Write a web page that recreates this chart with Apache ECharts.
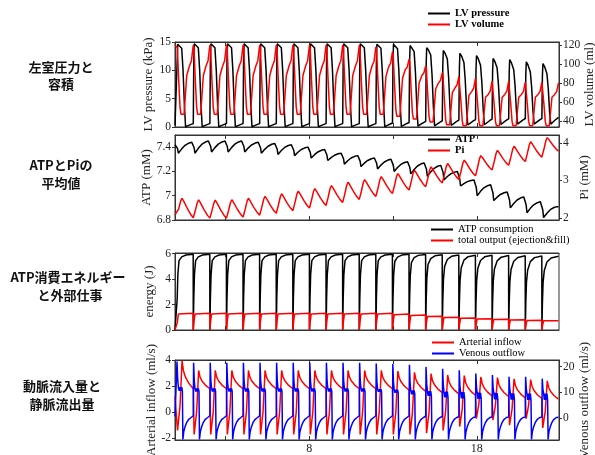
<!DOCTYPE html>
<html>
<head>
<meta charset="utf-8">
<script src="https://cdn.jsdelivr.net/npm/echarts@6/dist/echarts.min.js"></script>
<style>
  html, body { margin: 0; padding: 0; background: #fff; }
  #chart { width: 595px; height: 455px; }
</style>
</head>
<body>
<div id="chart"></div>
<script>
/* -------------------------------------------------------------------------- */
/*                       LV / ATP / energy / flow panels                      */
/* -------------------------------------------------------------------------- */

// beat onsets (s)
const beatOnsets = [0.10, 1.09, 2.08, 3.07, 4.06, 5.05, 6.04, 7.03, 8.02, 9.01, 10.00, 10.99,
  11.98, 12.97, 13.96, 14.95, 15.94, 16.93, 17.92, 18.91, 19.90, 20.89, 21.88];
const beatLen = 0.99;
const xTicks = [3, 8, 13, 18];
const xLabels = [8, 18];

// LV pressure (kPa), per beat
const lvpPeak = [14.6, 14.7, 14.7, 14.7, 14.7, 14.7, 14.7, 14.7, 14.7, 14.7, 14.7, 14.7,
  14.6, 14.6, 14.4, 14.0, 13.5, 13.0, 12.6, 12.1, 11.9, 11.5, 11.2];
const lvpLate = [13.9, 14.0, 14.0, 14.0, 14.0, 14.0, 14.0, 14.0, 14.0, 14.0, 14.0, 14.0,
  13.9, 13.8, 13.3, 12.7, 12.0, 11.4, 10.9, 10.4, 10.1, 9.7, 9.4];
const lvpMin = [0.05, 0.05, 0.05, 0.05, 0.05, 0.05, 0.05, 0.05, 0.05, 0.05, 0.05, 0.05, 0.05,
  0.1, 0.15, 0.2, 0.3, 0.35, 0.4, 0.45, 0.5, 0.5, 0.5];
// diastolic pressure just before each upstroke (last = right edge)
const lvpDia = [0.4, 0.6, 0.6, 0.6, 0.6, 0.6, 0.6, 0.6, 0.6, 0.6, 0.6, 0.6, 0.6,
  0.7, 0.8, 1.0, 1.1, 1.2, 1.3, 1.4, 1.45, 1.5, 1.5, 1.7];

// LV volume (ml)
const lvvEdv = [120, 120, 120, 120, 120, 120, 120, 120, 120, 120, 120, 120,
  118, 113, 105, 98, 91, 87, 85, 82, 82, 81, 81, 80];
const lvvEsv = [47, 47, 47, 47, 47, 47, 47, 47, 47, 47, 47, 47, 47,
  45, 42, 39, 36, 35, 35, 35, 35, 35, 35];
const lvvFill = [88, 88, 88, 88, 88, 88, 88, 88, 88, 88, 88, 88,
  87, 85, 80, 74, 70, 67, 65, 65, 65, 65, 65];
const lvvPre = [98, 98, 98, 98, 98, 98, 98, 98, 98, 98, 98, 98,
  97, 94, 88, 80, 75, 71, 68, 68, 68, 68, 68];

// ATP (mM): level at each beat onset and the dip right after it
const atpHi = [7.43, 7.44, 7.45, 7.45, 7.45, 7.44, 7.43, 7.42, 7.40, 7.38, 7.35, 7.33,
  7.31, 7.30, 7.28, 7.27, 7.25, 7.20, 7.13, 7.09, 7.03, 6.99, 6.95, 6.91];
const atpLo = [7.35, 7.35, 7.36, 7.36, 7.36, 7.35, 7.34, 7.33, 7.31, 7.29, 7.26, 7.24,
  7.22, 7.20, 7.18, 7.16, 7.13, 7.08, 7.00, 6.96, 6.90, 6.86, 6.82];

// Pi (mM): trough at beat onset, peak in systole
const piLo = [2.05, 2.00, 1.99, 1.99, 2.02, 2.07, 2.12, 2.19, 2.26, 2.33, 2.41, 2.49,
  2.57, 2.65, 2.74, 2.83, 2.93, 3.02, 3.12, 3.28, 3.40, 3.50, 3.62, 3.78];
const piHi = [2.52, 2.48, 2.47, 2.48, 2.52, 2.57, 2.64, 2.71, 2.78, 2.86, 2.95, 3.02,
  3.10, 3.18, 3.27, 3.36, 3.45, 3.54, 3.66, 3.80, 3.91, 4.03, 4.14];

// energy (J)
const atpcKnee = [5.45, 5.45, 5.45, 5.45, 5.45, 5.45, 5.45, 5.45, 5.45, 5.45, 5.45, 5.45, 5.45,
  5.4, 5.3, 5.15, 5.0, 4.9, 4.85, 4.8, 4.75, 4.7, 4.65];
const atpcEnd = [5.95, 5.95, 5.95, 5.95, 5.95, 5.95, 5.95, 5.95, 5.95, 5.95, 5.95, 5.95, 5.95, 5.95,
  5.94, 5.92, 5.9, 5.88, 5.87, 5.85, 5.83, 5.82, 5.8];
const outPeak = [1.36, 1.36, 1.36, 1.36, 1.36, 1.36, 1.36, 1.36, 1.36, 1.36, 1.36, 1.36, 1.36,
  1.3, 1.24, 1.15, 1.07, 1.0, 0.95, 0.9, 0.86, 0.82, 0.79];
const outEnd = [1.32, 1.32, 1.32, 1.32, 1.32, 1.32, 1.32, 1.32, 1.32, 1.32, 1.32, 1.32, 1.32,
  1.25, 1.18, 1.09, 1.01, 0.94, 0.89, 0.84, 0.8, 0.76, 0.73];

// arterial inflow (ml/s)
const artPeak = [3.95, 3.2, 3.2, 3.2, 3.2, 3.2, 3.2, 3.2, 3.2, 3.2, 3.2, 3.2, 3.2,
  3.15, 3.05, 2.95, 2.85, 2.8, 2.7, 2.65, 2.55, 2.5, 2.4];
const artEnd = [1.2, 1.8, 1.8, 1.8, 1.8, 1.8, 1.8, 1.8, 1.8, 1.8, 1.8, 1.8, 1.8, 1.8,
  1.7, 1.6, 1.5, 1.4, 1.3, 1.25, 1.2, 1.1, 1.05, 1.0];
const artMin = [-1.4, -1.7, -1.7, -1.7, -1.7, -1.7, -1.7, -1.7, -1.7, -1.7, -1.7, -1.7, -1.7, -1.7,
  -1.7, -1.6, -1.4, -1.1, -0.5, -0.6, -1.0, -0.5, -1.2];

// venous outflow (ml/s)
const venSpike = [22, 21.5, 21.5, 21.5, 21.5, 21.5, 21.5, 21.5, 21.5, 21.5, 21.5, 21.5,
  21.2, 21, 20.7, 19.9, 19.2, 18.6, 17.3, 16.7, 16, 16, 15.3];
const venHi = [12, 11.5, 11.5, 11.5, 11.5, 11.5, 11.5, 11.5, 11.5, 11.5, 11.5, 11.5,
  11.2, 11, 10.7, 10.4, 10.2, 10, 9.8, 9.7, 9.6, 9.5, 9.5];
const venLo = [10.5, 10.3, 10.3, 10.3, 10.3, 10.3, 10.3, 10.3, 10.3, 10.3, 10.3, 10.3, 10.2,
  9.8, 9.2, 8.6, 8, 7.6, 7.4, 7.2, 7.1, 7, 7];
const venMin = -8.5;
const venBase = [0.5, 0.8, 0.8, 0.8, 0.8, 0.8, 0.8, 0.8, 0.8, 0.8, 0.8, 0.8, 0.8, 0.8,
  0.7, 0.6, 0.5, 0.4, 0.3, 0.3, 0.3, 0.2, 0.2, 0.2];

const sideLabels = [
  ['左室圧力と', 61, 67], ['容積', 61, 84],
  ['ATPとPiの', 61, 165], ['平均値', 61, 183],
  ['ATP消費エネルギー', 68, 277], ['と外部仕事', 70, 295],
  ['動脈流入量と', 62, 386], ['静脈流出量', 62, 404]
];

// one waveform: start point, per-beat shape points [offset, value], closing value
const beatSeries = (start, pointsFor, endValue) => {
  const out = [start];
  beatOnsets.forEach((t0, k) => {
    pointsFor(k).forEach(p => out.push([+(t0 + p[0]).toFixed(3), p[1]]));
  });
  out.push([+(beatOnsets[beatOnsets.length - 1] + beatLen).toFixed(3), endValue]);
  return out;
};

const lvpData = beatSeries([0, 0.3], k => {
  const p = lvpPeak[k], l = lvpLate[k], m = lvpMin[k], d0 = lvpDia[k], d1 = lvpDia[k + 1];
  return [[0, d0], [0.03, 0.8 * p], [0.06, p], [0.16, p - 0.3 * (p - l)], [0.30, l],
    [0.38, 0.72 * l], [0.46, 0.28 * l], [0.53, m], [0.68, m + 0.35 * (d1 - m)], [0.86, m + 0.75 * (d1 - m)]];
}, lvpDia[23]);

const lvvData = beatSeries([0, 120], k => {
  const e = lvvEdv[k], s = lvvEsv[k], f = lvvFill[k], pr = lvvPre[k], n = lvvEdv[k + 1], dv = e - s;
  return [[0, e], [0.04, e - 0.04 * dv], [0.12, s + 0.5 * dv], [0.20, s + 0.1 * dv], [0.26, s],
    [0.44, s], [0.52, s + 0.5 * (f - s)], [0.60, f], [0.76, pr], [0.88, pr + 0.25 * (n - pr)]];
}, lvvEdv[23]);

const atpData = beatSeries([0, 7.42], k => {
  const h = atpHi[k], lo = atpLo[k], a = atpHi[k + 1] - lo;
  return [[0, h], [0.05, lo + 0.5 * (h - lo)], [0.10, lo], [0.16, lo + 0.05 * a], [0.30, lo + 0.4 * a],
    [0.50, lo + 0.72 * a], [0.72, lo + 0.92 * a], [0.90, lo + a]];
}, atpHi[23]);

const piData = beatSeries([0, 2.08], k => {
  const lo = piLo[k], h = piHi[k], d = h - piLo[k + 1];
  return [[0, lo], [0.12, lo + 0.4 * (h - lo)], [0.24, lo + 0.85 * (h - lo)], [0.32, h],
    [0.42, h - 0.15 * d], [0.65, h - 0.55 * d], [0.85, h - 0.85 * d]];
}, piLo[23]);

const atpcData = beatSeries([0, 0], k => {
  const q = atpcKnee[k], e = atpcEnd[k];
  return [[0, 0], [0.03, 0.45 * q], [0.07, 0.8 * q], [0.14, q], [0.30, q + 0.6 * (e - q)],
    [0.55, q + 0.88 * (e - q)], [0.985, e]];
}, atpcEnd[22]);

const outData = beatSeries([0, 0], k => {
  const p = outPeak[k], e = outEnd[k];
  return [[0, 0], [0.04, 0.45 * p], [0.10, 0.92 * p], [0.16, p], [0.985, e]];
}, outEnd[22]);

const artData = beatSeries([0, 1.2], k => {
  const e = artEnd[k], m = artMin[k], p = artPeak[k], d = p - artEnd[k + 1];
  return [[0, e], [0.05, m], [0.20, m + 0.35 * (p - m)], [0.32, p], [0.40, p - 0.35 * d],
    [0.52, p - 0.58 * d], [0.72, p - 0.8 * d]];
}, artEnd[23]);

const venData = beatSeries([0, 0.5], k => {
  const s = venSpike[k], h = venHi[k], l = venLo[k];
  return [[0, venBase[k]], [0.02, s], [0.06, h + 0.3 * (s - h)], [0.10, h], [0.15, l], [0.20, h],
    [0.25, l], [0.30, h], [0.34, l], [0.37, venMin], [0.42, 0.65 * venMin], [0.50, 0.41 * venMin],
    [0.60, 0.21 * venMin], [0.72, 0.07 * venMin], [0.86, 0.1]];
}, venBase[23]);

/* ------------------------------- axes helpers ------------------------------ */
const serif = 'Liberation Serif';
const frameColor = '#333';

const xAx = (gi, pos, labels) => ({
  gridIndex: gi, type: 'value', position: pos, min: 0, max: 22.9,
  axisLine: { show: true, onZero: false, lineStyle: { color: frameColor, width: 1 } },
  axisTick: { show: true, inside: true, length: 4, customValues: xTicks, lineStyle: { color: frameColor } },
  axisLabel: labels
    ? { show: true, customValues: xLabels, fontFamily: serif, fontSize: 12, color: '#222', margin: 3 }
    : { show: false },
  splitLine: { show: false }
});

const yAx = (gi, pos, min, max, ticks, name, gap) => ({
  gridIndex: gi, type: 'value', position: pos, min: min, max: max,
  name: name, nameLocation: 'middle', nameGap: gap, nameMoveOverlap: false,
  nameTextStyle: { fontFamily: serif, fontSize: 13, color: '#222' },
  axisLine: { show: true, onZero: false, lineStyle: { color: frameColor, width: 1 } },
  axisTick: { show: true, length: 3, customValues: ticks, lineStyle: { color: frameColor } },
  axisLabel: { customValues: ticks, fontFamily: serif, fontSize: 11.5, color: '#222', margin: 4 },
  splitLine: { show: false }
});

const legendAt = (names, left, top, bold) => ({
  data: names.map(n => ({ name: n, icon: 'rect' })),
  left: left, top: top, orient: 'vertical', selectedMode: false, padding: 0,
  itemWidth: 22, itemHeight: 2, itemGap: 0,
  textStyle: { fontFamily: serif, fontSize: 10.5, lineHeight: 11,
    fontWeight: bold ? 'bold' : 'normal', color: '#000' }
});

const line = (name, xi, yi, data, color) => ({
  type: 'line', name: name, xAxisIndex: xi, yAxisIndex: yi, data: data,
  symbol: 'none', showSymbol: false,
  lineStyle: { color: color, width: 1.5 }, itemStyle: { color: color }
});

const gridAt = (top, height) => ({
  left: 175, right: 36, top: top, height: height, show: true,
  borderColor: frameColor, borderWidth: 1, outerBoundsMode: 'none', containLabel: false
});

const chart = echarts.init(document.getElementById('chart'));

chart.setOption({
  animation: false,
  backgroundColor: '#fff',
  grid: [gridAt(42, 85), gridAt(135, 85), gridAt(253, 77), gridAt(360, 80)],
  xAxis: [
    xAx(0, 'bottom', false), xAx(0, 'top', false),
    xAx(1, 'bottom', false), xAx(1, 'top', false),
    xAx(2, 'bottom', false), xAx(2, 'top', false),
    xAx(3, 'bottom', true), xAx(3, 'top', false)
  ],
  yAxis: [
    yAx(0, 'left', 0, 15, [0, 5, 10, 15], 'LV pressure (kPa)', 20),
    yAx(0, 'right', 33.7, 123.2, [40, 60, 80, 100, 120], 'LV volume (ml)', 24),
    yAx(1, 'left', 6.8, 7.5, [6.8, 7, 7.2, 7.4], 'ATP (mM)', 22),
    yAx(1, 'right', 1.94, 4.21, [2, 3, 4], 'Pi (mM)', 19),
    yAx(2, 'left', 0, 6.05, [0, 2, 4, 6], 'energy (J)', 19),
    yAx(3, 'left', -2.13, 4, [-2, 0, 2, 4], 'Arterial inflow (ml/s)', 17),
    yAx(3, 'right', -8.7, 22.6, [0, 10, 20], 'Venous outflow (ml/s)', 19)
  ],
  legend: [
    legendAt(['LV pressure', 'LV volume'], 428, 8, true),
    legendAt(['ATP', 'Pi'], 428, 134, true),
    legendAt(['ATP consumption', 'total output (ejection&fill)'], 431, 224, false),
    legendAt(['Arterial inflow', 'Venous outflow'], 432, 337, false)
  ],
  series: [
    line('LV pressure', 0, 0, lvpData, '#000'),
    line('LV volume', 0, 1, lvvData, '#f00'),
    line('ATP', 2, 2, atpData, '#000'),
    line('Pi', 2, 3, piData, '#f00'),
    line('ATP consumption', 4, 4, atpcData, '#000'),
    line('total output (ejection&fill)', 4, 4, outData, '#f00'),
    line('Arterial inflow', 6, 5, artData, '#f00'),
    line('Venous outflow', 6, 6, venData, '#00f')
  ],
  graphic: sideLabels.map(l => ({
    type: 'text', x: l[1], y: l[2],
    style: { text: l[0], textAlign: 'center', textVerticalAlign: 'middle',
      font: 'bold 13px "Noto Sans CJK JP"', fill: '#111' }
  }))
});
</script>
</body>
</html>
